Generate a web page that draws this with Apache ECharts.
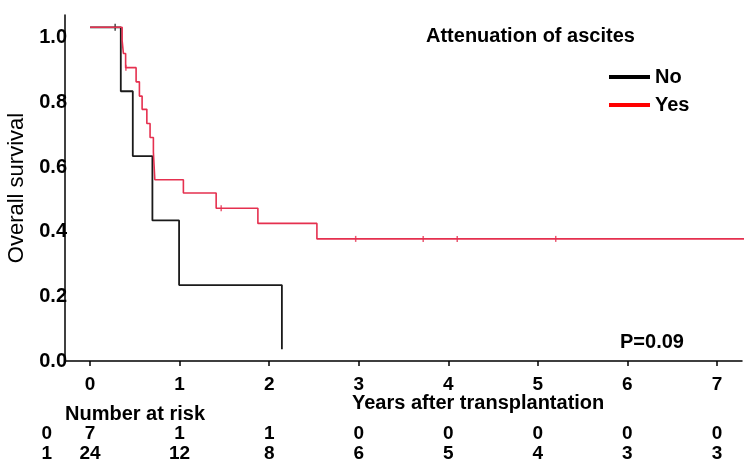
<!DOCTYPE html>
<html>
<head>
<meta charset="utf-8">
<script src="https://cdn.jsdelivr.net/npm/echarts@6/dist/echarts.min.js"></script>
<style>
  html, body { margin: 0; padding: 0; background: #fff; }
  #chart { width: 753px; height: 461px; }
</style>
</head>
<body>
<div id="chart"></div>
<script>
// Kaplan-Meier curves: [years, survival]
var curveNo = [[0, 1.033], [0.343, 0.835], [0.477, 0.634], [0.696, 0.435], [0.994, 0.235], [2.142, 0.036]];
var curveYes = [[0, 1.033], [0.358, 0.992], [0.372, 0.952], [0.397, 0.908], [0.514, 0.864], [0.551, 0.820],
  [0.581, 0.779], [0.634, 0.735], [0.670, 0.692], [0.707, 0.647], [0.723, 0.561], [1.042, 0.520],
  [1.408, 0.473], [1.874, 0.426], [2.533, 0.378], [7.41, 0.378]];
var censorNo = [[0.28, 1.033]];
var censorYes = [[0.40, 0.908], [1.464, 0.473], [2.966, 0.378], [3.72, 0.378], [4.10, 0.378], [5.20, 0.378]];

var xTicks = [0, 1, 2, 3, 4, 5, 6, 7];
var yTicks = [0, 0.2, 0.4, 0.6, 0.8, 1.0];
var riskNo = [7, 1, 1, 0, 0, 0, 0, 0];
var riskYes = [24, 12, 8, 6, 5, 4, 3, 3];

var FONT = 'Liberation Sans, Arial, sans-serif';
var myChart = echarts.init(document.getElementById('chart'));

function riskAxis(counts, rowName, offset) {
  return {
    type: 'value',
    position: 'bottom',
    min: -0.28,
    max: 7.28,
    offset: offset,
    name: rowName,
    nameLocation: 'start',
    nameGap: 13,
    nameTextStyle: { color: '#000', fontSize: 19, fontWeight: 'bold', fontFamily: FONT, verticalAlign: 'middle' },
    axisLine: { show: false },
    axisTick: { show: false },
    splitLine: { show: false },
    axisLabel: {
      customValues: xTicks,
      margin: 0,
      verticalAlign: 'middle',
      color: '#000',
      fontSize: 19,
      fontWeight: 'bold',
      fontFamily: FONT,
      formatter: function (v) { return String(counts[xTicks.indexOf(v)]); }
    }
  };
}

var option = {
  backgroundColor: '#fff',
  animation: false,
  grid: { left: 65, right: 11, top: 15, bottom: 100, outerBoundsMode: 'none', containLabel: false },
  legend: {
    orient: 'vertical',
    left: 609,
    top: 67,
    padding: 0,
    itemWidth: 41,
    itemHeight: 4,
    itemGap: 8,
    icon: 'rect',
    textStyle: { color: '#000', fontSize: 20, fontWeight: 'bold', fontFamily: FONT, lineHeight: 20 },
    data: [
      { name: 'No', itemStyle: { color: '#000' } },
      { name: 'Yes', itemStyle: { color: '#ff0000' } }
    ]
  },
  graphic: [
    { type: 'text', left: 426, top: 26, style: { text: 'Attenuation of ascites', fill: '#000', font: 'bold 20px ' + FONT } },
    { type: 'text', left: 620, top: 332, style: { text: 'P=0.09', fill: '#000', font: 'bold 20px ' + FONT } },
    { type: 'text', left: 352, top: 393, style: { text: 'Years after transplantation', fill: '#000', font: 'bold 20px ' + FONT } },
    { type: 'text', left: 65, top: 404, style: { text: 'Number at risk', fill: '#000', font: 'bold 20px ' + FONT } }
  ],
  xAxis: [
    {
      type: 'value',
      min: -0.28,
      max: 7.28,
      axisLine: { show: true, lineStyle: { color: '#000', width: 1.5 } },
      axisTick: { show: true, customValues: xTicks, length: 5, lineStyle: { color: '#000', width: 1.5 } },
      splitLine: { show: false },
      axisLabel: {
        customValues: xTicks,
        margin: 14,
        color: '#000',
        fontSize: 19,
        fontWeight: 'bold',
        fontFamily: FONT
      }
    },
    riskAxis(riskNo, '0', 73),
    riskAxis(riskYes, '1', 92.6)
  ],
  yAxis: {
    type: 'value',
    min: 0,
    max: 1.071,
    name: 'Overall survival',
    nameLocation: 'middle',
    nameRotate: 90,
    nameGap: 30,
    nameTextStyle: { color: '#000', fontSize: 22, fontFamily: FONT },
    axisLine: { show: true, onZero: false, lineStyle: { color: '#000', width: 1.5 } },
    axisTick: { show: false },
    splitLine: { show: false },
    axisLabel: {
      customValues: yTicks,
      margin: -2,
      color: '#000',
      fontSize: 20,
      fontWeight: 'bold',
      fontFamily: FONT,
      formatter: function (v) { return v.toFixed(1); }
    }
  },
  series: [
    {
      name: 'No',
      type: 'line',
      step: 'end',
      symbol: 'none',
      data: curveNo,
      lineStyle: { color: '#1a1a1a', width: 1.8 },
      itemStyle: { color: '#1a1a1a' }
    },
    {
      name: 'Yes',
      type: 'line',
      step: 'end',
      symbol: 'none',
      clip: false,
      data: curveYes,
      lineStyle: { color: '#e5304f', width: 1.6 },
      itemStyle: { color: '#e5304f' }
    },
    {
      name: 'No',
      type: 'scatter',
      symbol: 'rect',
      symbolSize: [1.5, 7],
      data: censorNo,
      itemStyle: { color: '#1a1a1a' }
    },
    {
      name: 'Yes',
      type: 'scatter',
      symbol: 'rect',
      symbolSize: [1.5, 6],
      data: censorYes,
      itemStyle: { color: '#e5304f' }
    }
  ]
};
myChart.setOption(option);
</script>
</body>
</html>
